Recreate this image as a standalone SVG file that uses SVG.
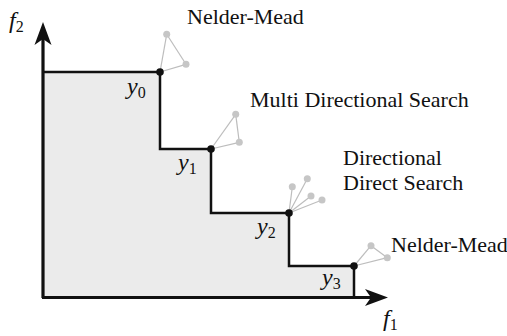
<svg xmlns="http://www.w3.org/2000/svg" width="507" height="336" viewBox="0 0 507 336">
<style>
.lbl{font-size:22px}
.math{font-style:italic;font-size:24px}
.sub{font-style:normal;font-size:16px}
.stair{fill:none;stroke:#111;stroke-width:2.5}
.axis{stroke:#111;stroke-width:3.2;fill:none}
.edge{stroke:#bdbdbd;stroke-width:1.2;fill:none}
.pt{fill:#c6c6c6}
.dot{fill:#111}
</style>
<rect width="507" height="336" fill="#fff"/>
<polygon points="43,72 160,72 160,149 211,149 211,213 289,213 289,266 354,266 354,297 43,297" fill="#ebebeb"/>
<g id="connectors">
<path class="stair" d="M43,72 H160 V149 H211 V213 H289 V266 H354 V297"/>
<line class="axis" x1="43" y1="298" x2="43" y2="36"/>
<line class="axis" x1="42" y1="297.5" x2="374" y2="297.5"/>
<polygon points="43,22 34.5,45 43,39 51.5,45" fill="#111"/>
<polygon points="388,297.5 365,289 371,297.5 365,306" fill="#111"/>
</g>
<g font-family="Liberation Serif, Tinos, Noto Serif, DejaVu Serif, Times New Roman, Times, serif" fill="#111">
<g id="axis-labels">
<text class="math" x="9" y="28">f<tspan class="sub" dy="4">2</tspan></text>
<text class="math" x="383" y="326">f<tspan class="sub" dy="4">1</tspan></text>
</g>
<g id="y0">
<line class="edge" x1="160" y1="72" x2="166.7" y2="34.3"/><line class="edge" x1="166.7" y1="34.3" x2="186" y2="64.3"/><line class="edge" x1="186" y1="64.3" x2="160" y2="72"/>
<circle class="pt" cx="166.7" cy="34.3" r="3.5"/><circle class="pt" cx="186" cy="64.3" r="3.5"/>
<circle class="dot" cx="160" cy="72" r="3.8"/>
<text class="math" x="127" y="94">y<tspan class="sub" dy="4">0</tspan></text>
<text class="lbl" x="187" y="24">Nelder-Mead</text>
</g>
<g id="y1">
<line class="edge" x1="211" y1="149" x2="235.7" y2="114.3"/><line class="edge" x1="235.7" y1="114.3" x2="239.3" y2="142.3"/><line class="edge" x1="239.3" y1="142.3" x2="211" y2="149"/>
<circle class="pt" cx="235.7" cy="114.3" r="3.5"/><circle class="pt" cx="239.3" cy="142.3" r="3.5"/>
<circle class="dot" cx="211" cy="149" r="3.8"/>
<text class="math" x="178" y="170">y<tspan class="sub" dy="4">1</tspan></text>
<text class="lbl" x="250" y="107">Multi Directional Search</text>
</g>
<g id="y2">
<line class="edge" x1="289" y1="213" x2="292.3" y2="186.7"/><line class="edge" x1="289" y1="213" x2="307.3" y2="178.7"/><line class="edge" x1="289" y1="213" x2="311" y2="196"/><line class="edge" x1="289" y1="213" x2="322" y2="200"/>
<circle class="pt" cx="292.3" cy="186.7" r="3.5"/><circle class="pt" cx="307.3" cy="178.7" r="3.5"/><circle class="pt" cx="311" cy="196" r="3.5"/><circle class="pt" cx="322" cy="200" r="3.5"/>
<circle class="dot" cx="289" cy="213" r="3.8"/>
<text class="math" x="257" y="234">y<tspan class="sub" dy="4">2</tspan></text>
<text class="lbl" x="343" y="165">Directional</text>
<text class="lbl" x="343" y="190">Direct Search</text>
</g>
<g id="y3">
<line class="edge" x1="354" y1="266" x2="371" y2="245.7"/><line class="edge" x1="371" y1="245.7" x2="387.3" y2="257.7"/><line class="edge" x1="387.3" y1="257.7" x2="354" y2="266"/>
<circle class="pt" cx="371" cy="245.7" r="3.5"/><circle class="pt" cx="387.3" cy="257.7" r="3.5"/>
<circle class="dot" cx="354" cy="266" r="3.8"/>
<text class="math" x="322" y="285">y<tspan class="sub" dy="4">3</tspan></text>
<text class="lbl" x="391" y="252">Nelder-Mead</text>
</g>
</g>
</svg>
